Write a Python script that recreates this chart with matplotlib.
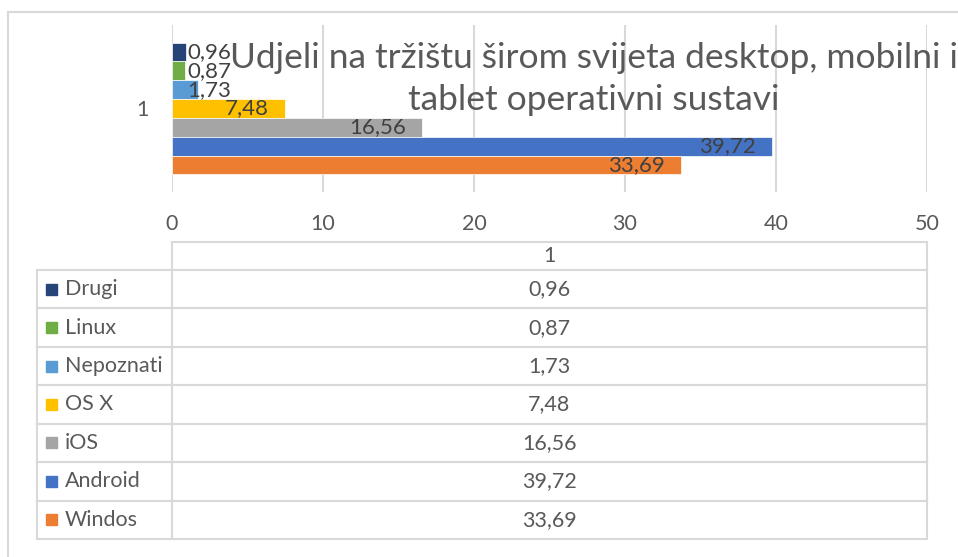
import matplotlib.pyplot as plt

plt.rcParams['font.family'] = ['Lato', 'DejaVu Sans']

# podaci (redoslijed kao u tablici)
os_names = ['Drugi', 'Linux', 'Nepoznati', 'OS X', 'iOS', 'Android', 'Windos']
shares = [0.96, 0.87, 1.73, 7.48, 16.56, 39.72, 33.69]
colors = ['#264478', '#70AD47', '#5B9BD5', '#FFC000', '#A5A5A5', '#4472C4', '#ED7D31']
category = '1'
x_ticks = [0, 10, 20, 30, 40, 50]
title_lines = ['Udjeli na tržištu širom svijeta desktop, mobilni i', 'tablet operativni sustavi']

W, H = 958, 557
txt = '#595959'
grid = '#D9D9D9'
fs = 15.5

fig = plt.figure(figsize=(W / 100, H / 100), dpi=100)

# pozadina / okvir / tablica u pikselima
bg = fig.add_axes([0, 0, 1, 1])
bg.set_xlim(0, W)
bg.set_ylim(H, 0)
bg.axis('off')
bg.plot([8, W], [12, 12], color=grid, lw=1.5)
bg.plot([8, 8], [12, H], color=grid, lw=1.5)

# os s trakama
px_l, px_r, px_t, px_b = 172, 927, 25, 192
ax = fig.add_axes([px_l / W, 1 - px_b / H, (px_r - px_l) / W, (px_b - px_t) / H])
ax.patch.set_visible(False)
ax.set_xlim(x_ticks[0], x_ticks[-1])
ax.set_ylim(-0.5, 0.5)
for s in ax.spines.values():
    s.set_visible(False)
ax.set_xticks(x_ticks)
ax.set_xticklabels([str(t) for t in x_ticks], fontsize=fs, color=txt)
ax.tick_params(axis='x', length=0, pad=16)
ax.set_yticks([0])
ax.set_yticklabels([category], fontsize=fs, color=txt)
ax.tick_params(axis='y', length=0, pad=17)
ax.grid(axis='x', color=grid, lw=1.5)
ax.set_axisbelow(True)

n = len(shares)
h = 0.79 / n
for i, (v, c) in enumerate(zip(shares, colors)):
    y = (n - 1) / 2 * h - i * h
    ax.barh(y, v, height=h, color=c, edgecolor='white', lw=0.5)
    lab = f'{v:.2f}'.replace('.', ',')
    if v < 5:
        ax.text(1.0, y, lab, ha='left', va='center', fontsize=16, color='#404040')
    else:
        ax.text(v - 1.05, y, lab, ha='right', va='center', fontsize=16, color='#404040')

# naslov u dva retka (iznad traka)
for k, line in enumerate(title_lines):
    fig.text(594 / W, 1 - (68 + k * 42) / H, line, ha='center', va='baseline',
             fontsize=25.5, color=txt, zorder=10)

# tablica podataka
col_l, col_m, col_r = 37, 172, 927
head_t, head_b = 242, 270
row_h = (539 - 270) / n
lw = 1.5
bg.plot([col_m, col_r], [head_t, head_t], color=grid, lw=lw)
bg.plot([col_m, col_m], [head_t, head_b], color=grid, lw=lw)
bg.plot([col_r, col_r], [head_t, head_b], color=grid, lw=lw)
bg.text((col_m + col_r) / 2, (head_t + head_b) / 2, category, ha='center', va='center',
        fontsize=fs, color=txt)
for i, (name, v, c) in enumerate(zip(os_names, shares, colors)):
    top = head_b + i * row_h
    bot = top + row_h
    bg.plot([col_l, col_r], [top, top], color=grid, lw=lw)
    bg.plot([col_l, col_r], [bot, bot], color=grid, lw=lw)
    for xx in (col_l, col_m, col_r):
        bg.plot([xx, xx], [top, bot], color=grid, lw=lw)
    cy = (top + bot) / 2
    bg.add_patch(plt.Rectangle((46, cy - 5.5), 11, 11, color=c))
    bg.text(65, cy, name, ha='left', va='center', fontsize=fs, color=txt)
    bg.text((col_m + col_r) / 2, cy, f'{v:.2f}'.replace('.', ','), ha='center', va='center',
            fontsize=fs, color=txt)

fig.savefig('out.png', dpi=100)
